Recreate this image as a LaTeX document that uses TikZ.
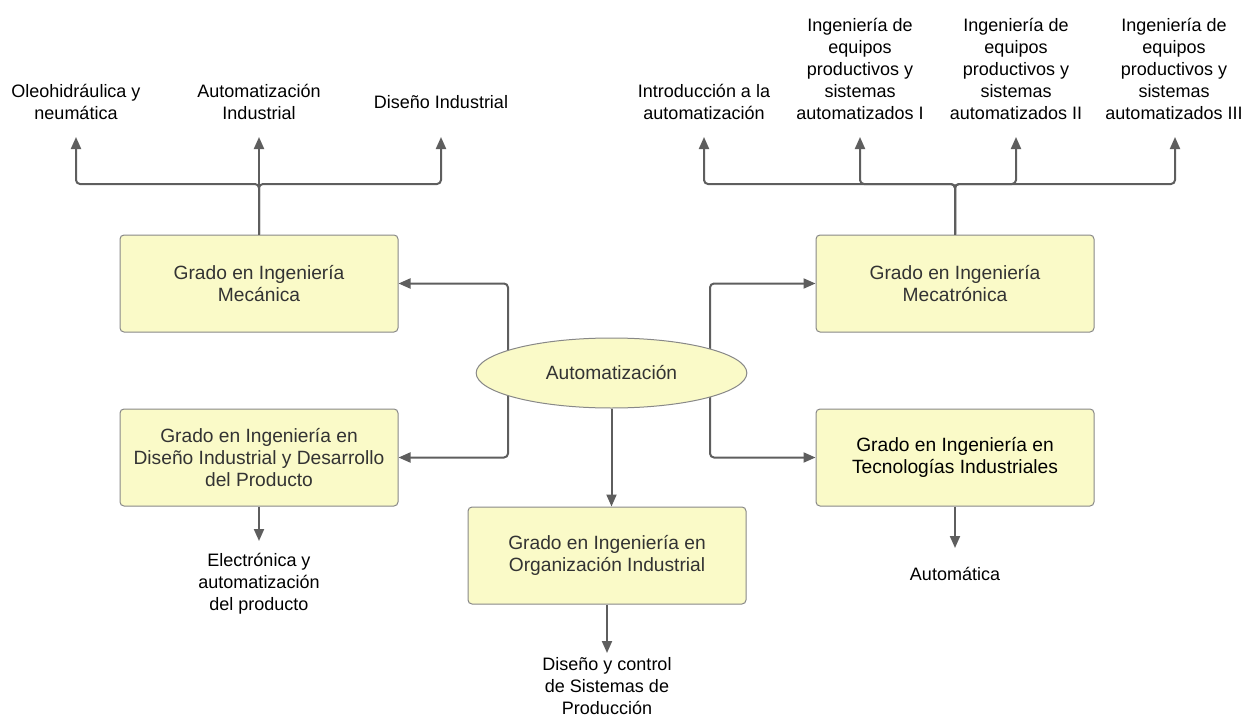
\documentclass[tikz,border=0pt]{standalone}
\usepackage{fontspec}
\setmainfont{Liberation Sans}
\usetikzlibrary{arrows.meta,shapes.geometric,backgrounds}
\definecolor{boxfill}{RGB}{250,250,200}
\definecolor{boxline}{RGB}{136,136,136}
\definecolor{boxtext}{RGB}{51,51,51}
\definecolor{linecol}{RGB}{94,94,94}
\begin{document}
\begin{tikzpicture}[x=0.75pt,y=-0.75pt,
  box/.style={draw=boxline, fill=boxfill, line width=0.75pt, rounded corners=3pt,
    minimum width=208.5pt, minimum height=72.75pt, align=center, text=boxtext,
    font=\fontsize{14.4}{16.5}\selectfont, inner sep=0pt},
  oval/.style={ellipse, draw=boxline, fill=boxfill, line width=0.75pt,
    minimum width=203pt, minimum height=52.5pt, inner sep=0pt, text=boxtext,
    font=\fontsize{14.4}{16.5}\selectfont},
  lbl/.style={align=center, text=black, font=\fontsize{13.5}{16.5}\selectfont, inner sep=0pt},
  wire/.style={draw=linecol, line width=1.5pt, rounded corners=3pt},
  conn/.style={wire, -{Triangle[width=7.5pt,length=9pt]}}
]
\useasboundingbox (0,0) rectangle (1246,717);

% boxes
\node[box] (mec) at (259,283.5) {Grado en Ingeniería\\Mecánica};
\node[box] (mct) at (955,283.5) {Grado en Ingeniería\\Mecatrónica};
\node[box] (dis) at (259,457.5) {Grado en Ingeniería en\\Diseño Industrial y Desarrollo\\del Producto};
\node[box, text=black] (tec) at (955,457.5) {Grado en Ingeniería en\\Tecnologías Industriales};
\node[box] (org) at (607,555.5) {Grado en Ingeniería en\\Organización Industrial};
\node[oval] (aut) at (611.5,373) {Automatización};

% labels
\node[lbl] (l1) at (76,102) {Oleohidráulica y\\neumática};
\node[lbl] (l2) at (259,102) {Automatización\\Industrial};
\node[lbl] (l3) at (441,102) {Diseño Industrial};
\node[lbl] (r1) at (704,102) {Introducción a la\\automatización};
\node[lbl] (r2) at (860,69) {Ingeniería de\\equipos\\productivos y\\sistemas\\automatizados I};
\node[lbl] (r3) at (1016,69) {Ingeniería de\\equipos\\productivos y\\sistemas\\automatizados II};
\node[lbl] (r4) at (1174,69) {Ingeniería de\\equipos\\productivos y\\sistemas\\automatizados III};
\node[lbl] (b1) at (259,584) {Electrónica y\\automatización\\del producto};
\node[lbl] (b2) at (955,574) {Automática};
\node[lbl] (b3) at (607,686) {Diseño y control\\de Sistemas de\\Producción};

% arrow tips / junctions
\coordinate (jl) at (259,184);
\coordinate (jr) at (955,184);
\coordinate (tl1) at (76,137);
\coordinate (tl2) at (259,137);
\coordinate (tl3) at (441,137);
\coordinate (tr1) at (704,137);
\coordinate (tr2) at (860,137);
\coordinate (tr3) at (1016,137);
\coordinate (tr4) at (1175,137);
\coordinate (tb1) at (259,541);
\coordinate (tb2) at (955,548);
\coordinate (tb3) at (607,653);
\coordinate (al) at (508,374);
\coordinate (ar) at (710,374);

\begin{scope}[on background layer]
\draw[conn] (al) |- (mec.east);
\draw[conn] (al) |- (dis.east);
\draw[conn] (ar) |- (mct.west);
\draw[conn] (ar) |- (tec.west);
\end{scope}
\draw[conn] (aut.south) -- (aut.south |- org.north);

\draw[conn] (mec.north) -- (jl) -| (tl1);
\draw[conn] (mec.north) -- (tl2);
\draw[conn] (mec.north) -- (jl) -| (tl3);

\draw[conn] (mct.north) -- (jr) -| (tr1);
\draw[conn] (mct.north) -- (jr) -| (tr2);
\draw[conn] (mct.north) -- (jr) -| (tr3);
\draw[conn] (mct.north) -- (jr) -| (tr4);

\draw[conn] (dis.south) -- (tb1);
\draw[conn] (tec.south) -- (tb2);
\draw[conn] (org.south) -- (tb3);
\end{tikzpicture}
\end{document}
